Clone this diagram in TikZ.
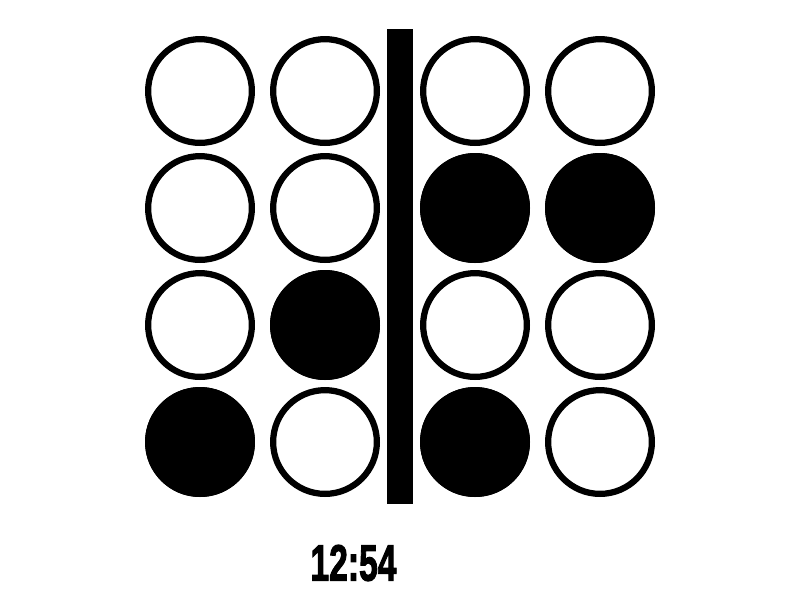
\documentclass[tikz,border=0pt]{standalone}
\usepackage{fontspec}
\setmainfont{Liberation Sans}
\newfontfamily\clockfont[BoldFeatures={FakeBold=2.5}]{Liberation Sans}
\usepackage{tikz}
\usetikzlibrary{positioning}

\begin{document}
\begin{tikzpicture}[
  x=0.02cm, y=-0.02cm,
  bit/.style={
    circle, draw=black, line width=0.125cm,
    minimum size=2.075cm, inner sep=0pt
  },
  on/.style={bit, fill=black},
  off/.style={bit, fill=white}
]

%% canvas
\useasboundingbox (0,0) rectangle (800,600);

%% ============================================================
%%  BITS  (columns: hour tens, hour units | minute tens, minute units)
%% ============================================================
\foreach \col/\cx in {a/200, b/325, c/475, d/600}
  \foreach \row/\cy in {1/91, 2/208, 3/325, 4/442}
    \node[off] (\col\row) at (\cx,\cy) {};

%% lit bits
\node[on] at (b3) {};
\node[on] at (a4) {};
\node[on] at (c2) {};
\node[on] at (d2) {};
\node[on] at (c4) {};

%% ============================================================
%%  DIVIDER
%% ============================================================
\fill[black] (386.5,29) rectangle (412.5,504);

%% ============================================================
%%  TIME
%% ============================================================
\node[font=\clockfont\bfseries\fontsize{29}{29}\selectfont, xscale=0.66, inner sep=0pt]
  (time) at (353.5,563) {12:54};

\end{tikzpicture}
\end{document}
